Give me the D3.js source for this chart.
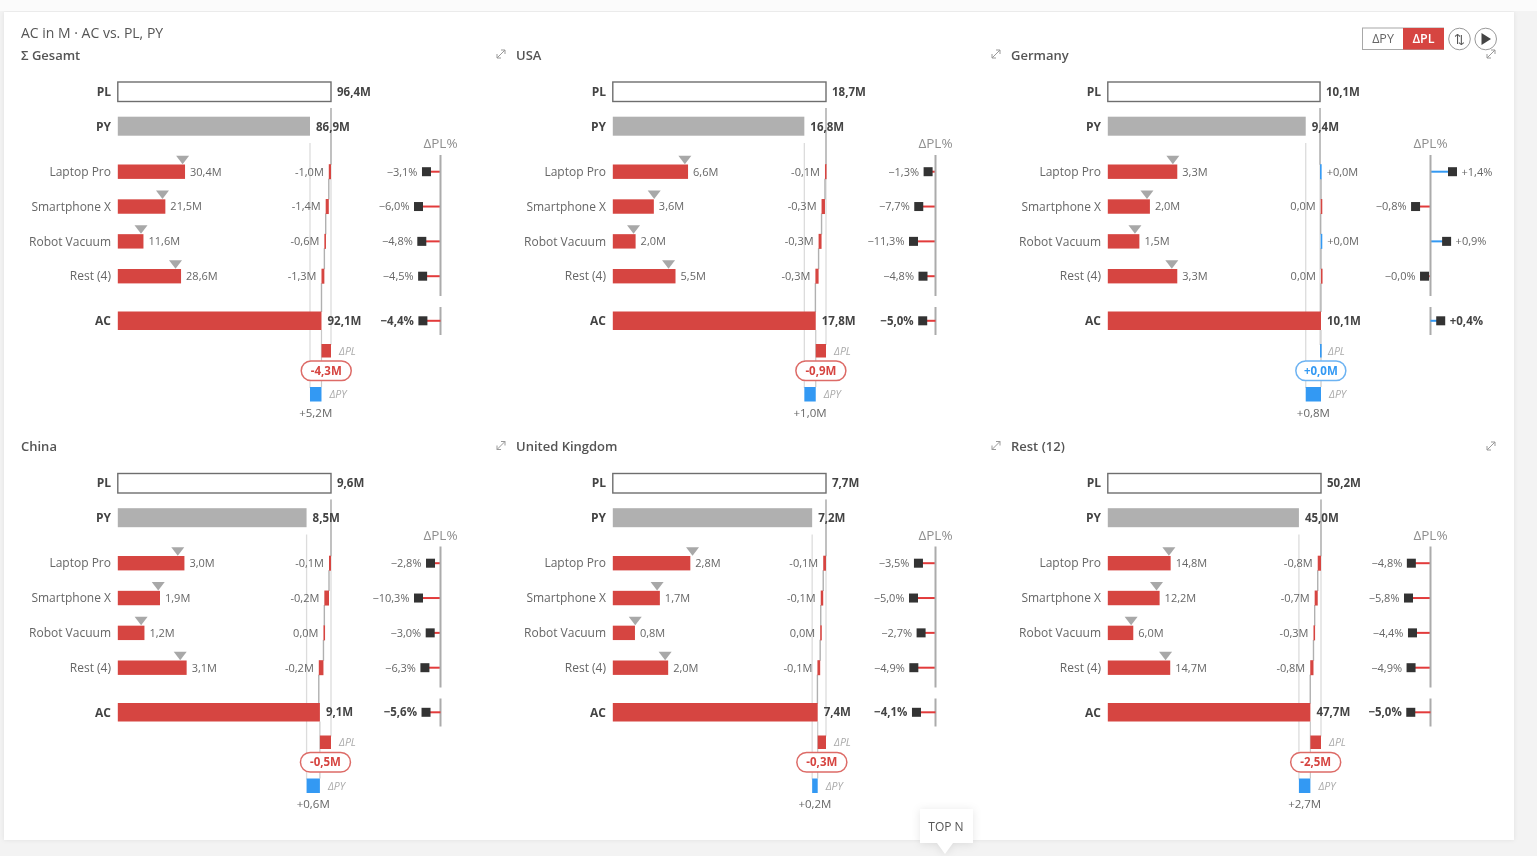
<!DOCTYPE html>
<html>
<head>
<meta charset="utf-8">
<script src="https://cdn.jsdelivr.net/npm/d3@7"></script>
<style>
  html, body { margin: 0; padding: 0; background: #f3f3f3; overflow: hidden; }
  svg { display: block; filter: blur(0.6px); }
  text { font-family: "Open Sans", "Noto Sans", sans-serif; }
</style>
</head>
<body>
<svg id="chart" width="1537" height="856"></svg>
<script>
const panelNames = ['Σ Gesamt', 'USA', 'Germany', 'China', 'United Kingdom', 'Rest (12)']
const categories = ['Laptop Pro', 'Smartphone X', 'Robot Vacuum', 'Rest (4)']

const plTotals = [96.4, 18.7, 10.08, 9.6, 7.7, 50.2]
const pyTotals = [86.9, 16.8, 9.4, 8.5, 7.2, 45.0]
const acTotals = [92.1, 17.8, 10.126, 9.1, 7.4, 47.7]
const deltaPlTotals = [-4.3, -0.9, 0.046, -0.5, -0.3, -2.5]
const deltaPyTotals = [5.2, 1.0, 0.8, 0.6, 0.2, 2.7]
const pctTotals = [-4.4, -5.0, 0.4, -5.6, -4.1, -5.0]

const catAc = [
  [30.4, 21.5, 11.6, 28.6],
  [6.6, 3.6, 2.0, 5.5],
  [3.3, 2.0, 1.5, 3.3],
  [3.0, 1.9, 1.2, 3.1],
  [2.8, 1.7, 0.8, 2.0],
  [14.8, 12.2, 6.0, 14.7]
]
const catPy = [
  [29.3, 20.2, 10.5, 26.1],
  [6.32, 3.63, 1.82, 4.89],
  [3.09, 1.86, 1.29, 3.04],
  [2.70, 1.82, 1.05, 2.81],
  [2.88, 1.60, 0.81, 1.89],
  [14.38, 11.47, 5.49, 13.6]
]
const catDeltaPl = [
  [-1.0, -1.4, -0.6, -1.3],
  [-0.09, -0.30, -0.26, -0.28],
  [0.047, -0.016, 0.013, -0.001],
  [-0.09, -0.21, -0.04, -0.21],
  [-0.10, -0.09, -0.02, -0.10],
  [-0.77, -0.72, -0.28, -0.76]
]
const catPct = [
  [-3.1, -6.0, -4.8, -4.5],
  [-1.3, -7.7, -11.3, -4.8],
  [1.4, -0.8, 0.9, -0.04],
  [-2.8, -10.3, -3.0, -6.3],
  [-3.5, -5.0, -2.7, -4.9],
  [-4.8, -5.8, -4.4, -4.9]
]

const RED = '#d64541'
const STEM_RED = '#e23b3b'
const BLUE = '#3399f3'
const TEXT = '#666'
const DARK = '#444'

const rowY = d3.scalePoint().domain(categories).range([171.7, 276.2])
const panelX = d3.scaleOrdinal().domain([0, 1, 2]).range([0, 495, 990])

const num = v => Math.abs(v).toFixed(1).replace('.', ',')
const fmtM = v => num(v) + 'M'
const fmtDelta = v => {
  if (v < 0) return (num(v) === '0,0' ? '' : '-') + fmtM(v)
  return '+' + fmtM(v)
}
const fmtPct = v => (v < 0 ? '−' : '+') + num(v) + '%'
const signColor = v => v < 0 ? RED : BLUE

const svg = d3.select('#chart')

// page background and card
svg.append('rect')
  .attr('x', 4).attr('y', 12).attr('width', 1510).attr('height', 828)
  .attr('fill', '#fff')
  .style('filter', 'drop-shadow(0 0 2px rgba(0,0,0,.08))')
svg.append('rect').attr('x', 0).attr('y', 0).attr('width', 1537).attr('height', 11).attr('fill', '#fbfbfb')

const label = (g, x, y, str, opts = {}) => g.append('text')
  .attr('x', x).attr('y', y)
  .attr('dy', '.35em')
  .attr('text-anchor', opts.anchor || 'start')
  .attr('fill', opts.fill || TEXT)
  .attr('font-size', opts.size || 12)
  .attr('font-weight', opts.weight || 400)
  .attr('font-style', opts.style || 'normal')
  .text(str)

const expandIcon = (g, x, y) => {
  g.append('path')
    .attr('d', `M${x - 4},${y + 4}L${x + 4},${y - 4}M${x},${y - 4}h4v4M${x - 4},${y}v4h4`)
    .attr('fill', 'none').attr('stroke', '#999').attr('stroke-width', 1)
}

const drawPanel = (i) => {
  const col = i % 3
  const row = Math.floor(i / 3)
  const g = svg.append('g').attr('transform', `translate(${panelX(col)},${row * 391.5})`)

  const pl = plTotals[i], py = pyTotals[i], ac = acTotals[i]
  const x = d3.scaleLinear().domain([0, Math.max(pl, ac)]).range([117.8, 331])
  const pctMax = d3.max(catPct[i].concat(pctTotals[i]), v => Math.abs(v))
  const pctLen = d3.scaleLinear().domain([0, pctMax]).range([5.5, 22])
  const axisX = 440.5

  // panel title, the two right columns have an expand icon in front
  label(g, 21, 55, panelNames[i], { fill: '#555', size: 13, weight: 600 })
  if (col > 0) expandIcon(g, 6, 54)

  // reference lines
  g.append('line').attr('x1', x(pl)).attr('x2', x(pl)).attr('y1', 108).attr('y2', 345)
    .attr('stroke', '#dcdcdc').attr('stroke-width', 1.3)
  g.append('line').attr('x1', x(py)).attr('x2', x(py)).attr('y1', 143).attr('y2', 388)
    .attr('stroke', '#dcdcdc').attr('stroke-width', 1.3)
  g.append('line').attr('x1', x(ac)).attr('x2', x(ac)).attr('y1', 330).attr('y2', 387)
    .attr('stroke', '#c8c8c8').attr('stroke-width', 1.2)

  // waterfall connectors
  const running = d3.cumsum(catDeltaPl[i], v => v).map(v => v + pl)
  const stops = [pl].concat(Array.from(running))
  stops.forEach((s, k) => {
    const top = k === 0 ? 108 : rowY(categories[k - 1]) + 7
    const bottom = k === categories.length ? 312 : rowY(categories[k]) - 7
    g.append('line').attr('x1', x(s)).attr('x2', x(s)).attr('y1', top).attr('y2', bottom)
      .attr('stroke', '#b0b0b0').attr('stroke-width', 1.4)
  })

  // PL / PY / AC total bars
  g.append('rect')
    .attr('x', x(0)).attr('y', 82).attr('width', x(pl) - x(0)).attr('height', 19.5)
    .attr('fill', '#fff').attr('stroke', '#6e6e6e').attr('stroke-width', 1.4)
  g.append('rect')
    .attr('x', x(0)).attr('y', 116.7).attr('width', x(py) - x(0)).attr('height', 19)
    .attr('fill', '#b0b0b0')
  g.append('rect')
    .attr('x', x(0)).attr('y', 311.5).attr('width', x(ac) - x(0)).attr('height', 18.5)
    .attr('fill', RED)

  label(g, 111, 91.7, 'PL', { anchor: 'end', weight: 700, fill: DARK })
  label(g, 111, 126.5, 'PY', { anchor: 'end', weight: 700, fill: DARK })
  label(g, 111, 320.8, 'AC', { anchor: 'end', weight: 700, fill: DARK })
  label(g, x(pl) + 6, 91.7, fmtM(pl), { weight: 700, fill: DARK, size: 11.5 })
  label(g, x(py) + 6, 126.5, fmtM(py), { weight: 700, fill: DARK, size: 11.5 })
  label(g, x(ac) + 6, 320.8, fmtM(ac), { weight: 700, fill: DARK, size: 11.5 })

  // category rows
  categories.forEach((cat, k) => {
    const y = rowY(cat)
    const v = catAc[i][k], d = catDeltaPl[i][k], from = stops[k], to = stops[k + 1]
    label(g, 111, y, cat, { anchor: 'end' })
    g.append('rect')
      .attr('x', x(0)).attr('y', y - 7.2).attr('width', x(v) - x(0)).attr('height', 14.4)
      .attr('fill', RED)
    label(g, x(v) + 5, y, fmtM(v), { size: 11 })

    const px = x(catPy[i][k])
    g.append('path')
      .attr('d', `M${px - 6.5},${y - 16}L${px + 6.5},${y - 16}L${px},${y - 7.5}Z`)
      .attr('fill', '#a8a8a8')

    const left = Math.min(x(from), x(to))
    const w = Math.max(Math.abs(x(to) - x(from)), 1.6)
    g.append('rect')
      .attr('x', left).attr('y', y - 7.5).attr('width', w).attr('height', 15)
      .attr('fill', signColor(d))
    if (d < 0) label(g, left - 5, y, fmtDelta(d), { anchor: 'end', size: 11 })
    else label(g, left + w + 5, y, fmtDelta(d), { size: 11 })

    const pct = catPct[i][k]
    const dir = pct < 0 ? -1 : 1
    const mx = axisX + dir * pctLen(Math.abs(pct))
    g.append('line').attr('x1', axisX).attr('x2', mx).attr('y1', y).attr('y2', y)
      .attr('stroke', pct < 0 ? STEM_RED : BLUE).attr('stroke-width', 2)
    g.append('rect').attr('x', mx - 4.5).attr('y', y - 4.5).attr('width', 9).attr('height', 9).attr('fill', '#333')
    label(g, mx + dir * 9, y, fmtPct(pct), { anchor: pct < 0 ? 'end' : 'start', size: 11 })
  })

  // ΔPL% axis
  label(g, axisX, 143.5, 'ΔPL%', { anchor: 'middle', fill: '#8f8f8f', size: 13.5 })
  g.append('line').attr('x1', axisX).attr('x2', axisX).attr('y1', 155).attr('y2', 296)
    .attr('stroke', '#ababab').attr('stroke-width', 2)
  g.append('line').attr('x1', axisX).attr('x2', axisX).attr('y1', 307).attr('y2', 335)
    .attr('stroke', '#ababab').attr('stroke-width', 2)

  const totalPct = pctTotals[i]
  const totalDir = totalPct < 0 ? -1 : 1
  const tx = axisX + totalDir * pctLen(Math.abs(totalPct))
  g.append('line').attr('x1', axisX).attr('x2', tx).attr('y1', 320.8).attr('y2', 320.8)
    .attr('stroke', totalPct < 0 ? STEM_RED : BLUE).attr('stroke-width', 2)
  g.append('rect').attr('x', tx - 4.5).attr('y', 316.3).attr('width', 9).attr('height', 9).attr('fill', '#333')
  label(g, tx + totalDir * 9, 320.8, fmtPct(totalPct), {
    anchor: totalPct < 0 ? 'end' : 'start', weight: 700, fill: DARK, size: 11.5
  })

  // ΔPL bar and pill
  const dPl = deltaPlTotals[i]
  const plLeft = Math.min(x(ac), x(pl))
  const plW = Math.max(Math.abs(x(pl) - x(ac)), 1.6)
  g.append('rect').attr('x', plLeft).attr('y', 344).attr('width', plW).attr('height', 13.5)
    .attr('fill', signColor(dPl))
  label(g, x(pl) + 8, 351, 'ΔPL', { fill: '#aaa', size: 10.5, style: 'italic' })

  const cx = plLeft + plW / 2
  g.append('rect')
    .attr('x', cx - 25).attr('y', 361).attr('width', 50).attr('height', 19.5).attr('rx', 9.7)
    .attr('fill', '#fff').attr('stroke', dPl < 0 ? '#dd6b67' : '#6db3f2').attr('stroke-width', 1.5)
  label(g, cx, 370.7, fmtDelta(dPl), { anchor: 'middle', weight: 700, fill: signColor(dPl), size: 11.5 })

  // ΔPY bar
  const dPy = deltaPyTotals[i]
  g.append('rect').attr('x', x(py)).attr('y', 387).attr('width', x(ac) - x(py)).attr('height', 14.5)
    .attr('fill', BLUE)
  label(g, x(ac) + 8, 394.5, 'ΔPY', { fill: '#aaa', size: 10.5, style: 'italic' })
  label(g, (x(py) + x(ac)) / 2, 412.5, fmtDelta(dPy), { anchor: 'middle', size: 11.5 })
}

d3.range(panelNames.length).forEach(drawPanel)

expandIcon(svg, 1491, 54)
expandIcon(svg, 1491, 446)

// header
label(svg, 21, 33, 'AC in M · AC vs. PL, PY', { fill: '#555', size: 14 })

// toggle
svg.append('rect').attr('x', 1362.5).attr('y', 28).attr('width', 81).attr('height', 21.5)
  .attr('fill', '#fff').attr('stroke', '#a8a8a8').attr('stroke-width', 1)
svg.append('rect').attr('x', 1403).attr('y', 28).attr('width', 41).attr('height', 21.5).attr('fill', RED)
label(svg, 1383, 39, 'ΔPY', { anchor: 'middle', fill: '#666', size: 12.5 })
label(svg, 1423.5, 39, 'ΔPL', { anchor: 'middle', fill: '#fff', size: 12.5, weight: 600 })

svg.append('circle').attr('cx', 1459.5).attr('cy', 39).attr('r', 10.8)
  .attr('fill', '#fff').attr('stroke', '#999').attr('stroke-width', 1)
label(svg, 1459.5, 39, '⇅', { anchor: 'middle', fill: '#555', size: 13 })
svg.append('circle').attr('cx', 1485.7).attr('cy', 39).attr('r', 10.8)
  .attr('fill', '#fff').attr('stroke', '#999').attr('stroke-width', 1)
svg.append('path').attr('d', 'M1481.5,33L1491,39L1481.5,45Z').attr('fill', '#444')

// TOP N tooltip
svg.append('path')
  .attr('d', 'M920,809H973V843H953L945,854L937,843H920Z')
  .attr('fill', '#fff')
  .style('filter', 'drop-shadow(0 1px 4px rgba(0,0,0,.1))')
label(svg, 946, 827, 'TOP N', { anchor: 'middle', fill: '#555', size: 12 })
</script>
</body>
</html>
